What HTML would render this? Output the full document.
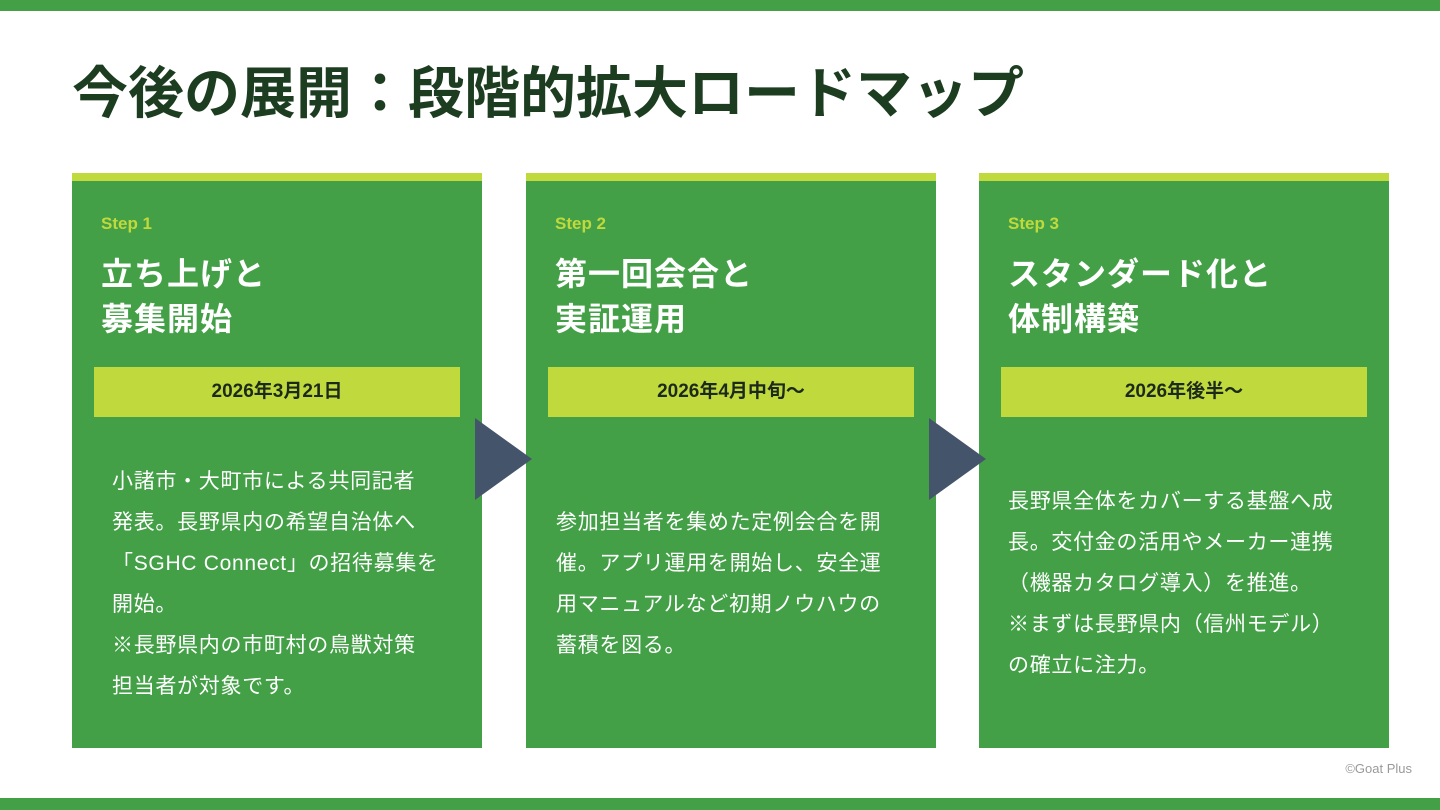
<!DOCTYPE html>
<html><head><meta charset="utf-8"><style>
*{margin:0;padding:0;box-sizing:border-box}
body{width:1440px;height:810px;background:#fff;position:relative;overflow:hidden;font-family:"Liberation Sans","Noto Sans CJK JP",sans-serif}
.band{position:absolute;left:0;width:1440px;background:#43a047}
.title{position:absolute;left:72px;top:58px;font-size:56px;font-weight:bold;color:#1c3d20;white-space:nowrap;letter-spacing:0px;line-height:72px}
.card{position:absolute;top:173px;width:410px;height:575px;background:#43a047;border-top:8px solid #c0d93c}
.step{position:absolute;left:29px;top:33px;font-size:17px;font-weight:bold;color:#c0d93c}
.head{position:absolute;left:29px;top:71px;font-size:32px;font-weight:bold;color:#fff;line-height:45px;letter-spacing:1px;white-space:nowrap}
.date{position:absolute;left:22px;top:186px;width:366px;height:50px;background:#c0d93c;color:#1c2a1c;font-size:19px;font-weight:bold;text-align:center;line-height:49px}
.body{position:absolute;font-size:21px;color:#fff;line-height:41px;white-space:nowrap;letter-spacing:0.7px}
.arrow{position:absolute;width:0;height:0;border-top:41px solid transparent;border-bottom:41px solid transparent;border-left:57px solid #44546a}
.copy{position:absolute;right:28px;top:761px;font-size:13px;color:#999}
</style></head><body>
<div class="band" style="top:0;height:11px"></div>
<div class="band" style="top:798px;height:12px"></div>
<div class="title">今後の展開：段階的拡大ロードマップ</div>

<div class="card" style="left:72px">
<div class="step">Step 1</div>
<div class="head">立ち上げと<br>募集開始</div>
<div class="date">2026年3月21日</div>
<div class="body" style="left:40px;top:280px">小諸市・大町市による共同記者<br>発表。長野県内の希望自治体へ<br>「SGHC Connect」の招待募集を<br>開始。<br>※長野県内の市町村の鳥獣対策<br>担当者が対象です。</div>
</div>
<div class="card" style="left:526px">
<div class="step">Step 2</div>
<div class="head">第一回会合と<br>実証運用</div>
<div class="date">2026年4月中旬〜</div>
<div class="body" style="left:30px;top:321px">参加担当者を集めた定例会合を開<br>催。アプリ運用を開始し、安全運<br>用マニュアルなど初期ノウハウの<br>蓄積を図る。</div>
</div>
<div class="card" style="left:979px">
<div class="step">Step 3</div>
<div class="head">スタンダード化と<br>体制構築</div>
<div class="date">2026年後半〜</div>
<div class="body" style="left:29px;top:300px">長野県全体をカバーする基盤へ成<br>長。交付金の活用やメーカー連携<br>（機器カタログ導入）を推進。<br>※まずは長野県内（信州モデル）<br>の確立に注力。</div>
</div>
<div class="arrow" style="left:475px;top:418px"></div>
<div class="arrow" style="left:929px;top:418px"></div>
<div class="copy">©Goat Plus</div>
</body></html>
